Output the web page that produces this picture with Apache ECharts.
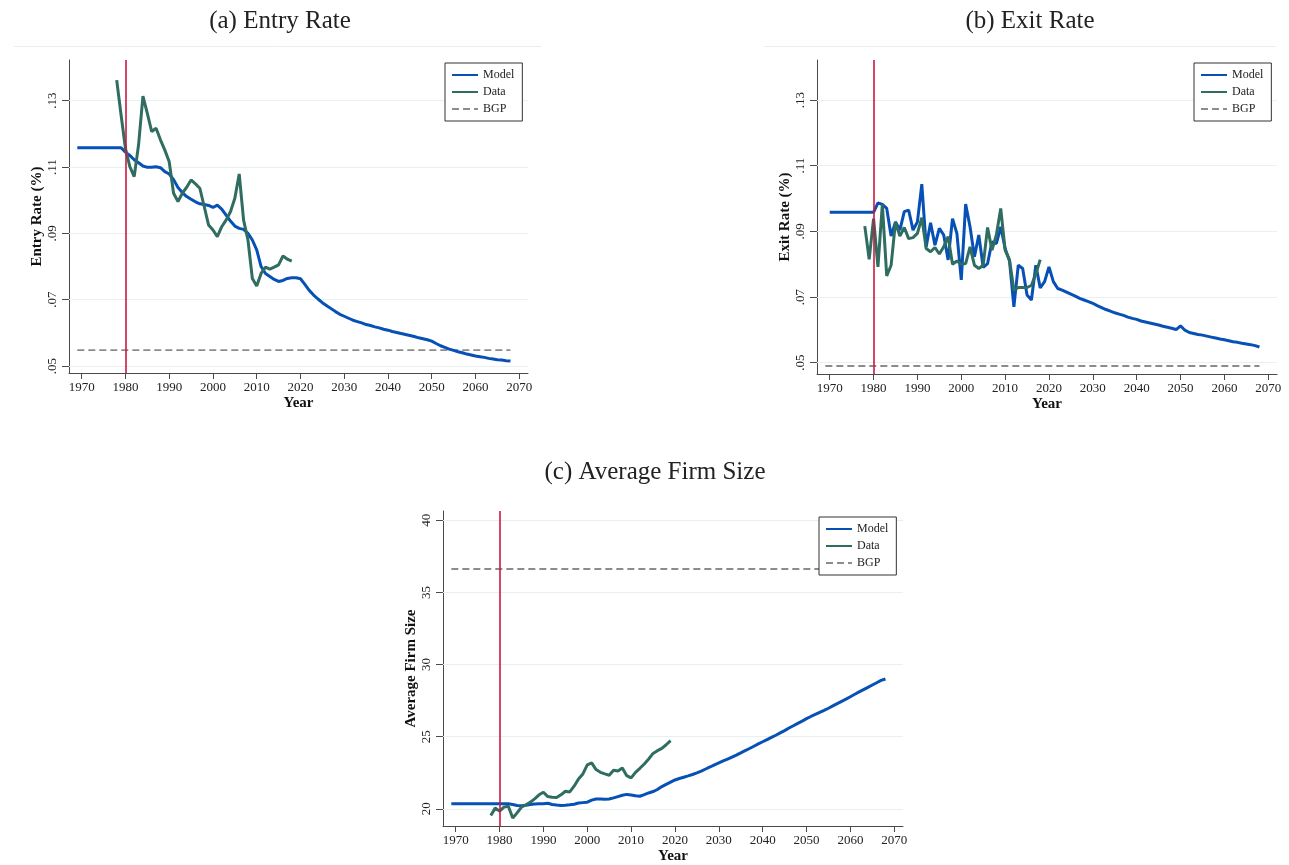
<!DOCTYPE html>
<html>
<head>
<meta charset="utf-8">
<script src="https://cdn.jsdelivr.net/npm/echarts@6/dist/echarts.min.js"></script>
<style>
  html, body { margin: 0; padding: 0; background: #fff; }
  #main { width: 1289px; height: 865px; }
</style>
</head>
<body>
<div id="main"></div>
<script>
// ---- data ----
var modelStart = 1969, exitModelStart = 1970, dataStart = 1978;
var bgpYears = [1969, 2068];
var policyYear = 1980;

var entryModel = [
  0.1158, 0.1158, 0.1158, 0.1158, 0.1158, 0.1158, 0.1158, 0.1158, 0.1158, 0.1158, 0.1158,
  0.1145, 0.1135, 0.1122, 0.1113, 0.1103, 0.1099, 0.1099, 0.1101, 0.1098, 0.1086,
  0.1079, 0.1062, 0.1038, 0.1023, 0.1011, 0.1003, 0.0995, 0.0989, 0.0987, 0.0984,
  0.0978, 0.0985, 0.0973, 0.0955, 0.0937, 0.0922, 0.0915, 0.0912, 0.0900, 0.0880,
  0.0850, 0.0800, 0.0779, 0.0770, 0.0761, 0.0755, 0.0758, 0.0764, 0.0766, 0.0766,
  0.0763, 0.0746, 0.0728, 0.0714, 0.0702, 0.0691, 0.0682, 0.0673, 0.0664, 0.0656,
  0.0650, 0.0644, 0.0638, 0.0634, 0.0630, 0.0625, 0.0622, 0.0618, 0.0615, 0.0611,
  0.0608, 0.0604, 0.0601, 0.0598, 0.0595, 0.0592, 0.0589, 0.0585, 0.0582, 0.0579,
  0.0575, 0.0568, 0.0561, 0.0556, 0.0551, 0.0547, 0.0543, 0.0540, 0.0536, 0.0533,
  0.0530, 0.0528, 0.0526, 0.0523, 0.0521, 0.0519, 0.0518, 0.0516, 0.0515
];
var entryData = [
  0.1362, 0.1257, 0.1156, 0.1101, 0.1071, 0.1167, 0.1314, 0.1262, 0.1207, 0.1217, 0.1182, 0.1151,
  0.1116, 0.1021, 0.0996, 0.1021, 0.1039, 0.1061, 0.1049, 0.1036, 0.0981, 0.0925,
  0.0910, 0.0890, 0.0920, 0.0940, 0.0965, 0.1006, 0.1079, 0.0940, 0.0880, 0.0764,
  0.0741, 0.0779, 0.0798, 0.0792, 0.0798, 0.0805, 0.0832, 0.0822, 0.0816
];
var entryBGP = 0.0548;

var exitModel = [
  0.0958, 0.0958, 0.0958, 0.0958, 0.0958, 0.0958, 0.0958, 0.0958, 0.0958, 0.0958, 0.0958,
  0.0987, 0.0982, 0.0970, 0.0886, 0.0929, 0.0904, 0.0960, 0.0965, 0.0904,
  0.0929, 0.1044, 0.0853, 0.0926, 0.0858, 0.0909, 0.0889, 0.0813, 0.0939, 0.0894,
  0.0752, 0.0983, 0.0914, 0.0823, 0.0889, 0.0790, 0.0802, 0.0868, 0.0863, 0.0914,
  0.0848, 0.0810, 0.0670, 0.0797, 0.0787, 0.0706, 0.0691, 0.0797, 0.0728, 0.0747,
  0.0792, 0.0747, 0.0726, 0.0721, 0.0715, 0.0709, 0.0703, 0.0696, 0.0691, 0.0686,
  0.0681, 0.0674, 0.0668, 0.0662, 0.0657, 0.0652, 0.0648, 0.0644, 0.0639, 0.0635,
  0.0632, 0.0627, 0.0624, 0.0621, 0.0618, 0.0615, 0.0611, 0.0608, 0.0605, 0.0601,
  0.0612, 0.0599, 0.0592, 0.0589, 0.0586, 0.0584, 0.0581, 0.0578, 0.0575, 0.0572,
  0.0570, 0.0567, 0.0564, 0.0562, 0.0559, 0.0557, 0.0555, 0.0552, 0.0548
];
var exitData = [
  0.0916, 0.0815, 0.0939, 0.0792, 0.0982, 0.0764, 0.0797, 0.0929, 0.0886, 0.0912, 0.0878, 0.0881,
  0.0894, 0.0942, 0.0848, 0.0838, 0.0851, 0.0831, 0.0853, 0.0884, 0.0800, 0.0810,
  0.0800, 0.0802, 0.0853, 0.0797, 0.0787, 0.0797, 0.0912, 0.0843, 0.0889, 0.0970,
  0.0843, 0.0813, 0.0721, 0.0729, 0.0729, 0.0729, 0.0736, 0.0770, 0.0814
];
var exitBGP = 0.0490;

var sizeModel = [
  20.35, 20.35, 20.35, 20.35, 20.35, 20.35, 20.35, 20.35, 20.35, 20.35, 20.35, 20.35, 20.35, 20.35,
  20.30, 20.23, 20.22, 20.25, 20.30, 20.33, 20.35,
  20.35, 20.39, 20.30, 20.26, 20.23, 20.25, 20.28, 20.32, 20.40, 20.43,
  20.46, 20.60, 20.68, 20.68, 20.67, 20.68, 20.76, 20.85, 20.94, 21.00,
  20.96, 20.90, 20.87, 20.98, 21.10, 21.20, 21.34, 21.54, 21.70, 21.85,
  22.00, 22.10, 22.19, 22.28, 22.38, 22.49, 22.62, 22.76, 22.90, 23.05,
  23.18, 23.32, 23.45, 23.58, 23.72, 23.88, 24.03, 24.18, 24.34, 24.50,
  24.65, 24.80, 24.95, 25.10, 25.26, 25.42, 25.60, 25.76, 25.92, 26.08,
  26.25, 26.40, 26.54, 26.68, 26.82, 26.97, 27.13, 27.29, 27.45, 27.60,
  27.77, 27.94, 28.10, 28.26, 28.42, 28.58, 28.74, 28.90, 29.00
];
var sizeData = [
  19.54, 20.05, 19.84, 20.12, 20.18, 19.36, 19.72, 20.12, 20.28, 20.46, 20.69, 20.97,
  21.15, 20.85, 20.81, 20.78, 20.97, 21.22, 21.17, 21.57, 22.07, 22.42,
  23.04, 23.18, 22.72, 22.53, 22.42, 22.33, 22.67, 22.62, 22.83, 22.30,
  22.14, 22.53, 22.81, 23.11, 23.45, 23.84, 24.03, 24.19, 24.44, 24.72
];
var sizeBGP = 36.62;

var yearTicks = [1970, 1980, 1990, 2000, 2010, 2020, 2030, 2040, 2050, 2060, 2070];
var rateTicks = [0.05, 0.07, 0.09, 0.11, 0.13];
var rateTickLabels = ['.05', '.07', '.09', '.11', '.13'];
var sizeTicks = [20, 25, 30, 35, 40];
var sizeTickLabels = ['20', '25', '30', '35', '40'];

// ---- styling ----
var FONT = 'Liberation Serif';
var BLUE = '#0650b6', GREEN = '#2f6d60', RED = '#cc1840', GRAY = '#8c8c8c', GRID = '#e8f0f0', AXIS = '#4a4a4a';

function pairs(start, vals) {
  return vals.map(function (v, i) { return [start + i, v]; });
}

function xAxisFor(g) {
  return {
    type: 'value', gridIndex: g, min: 1967.1, max: 2072,
    name: 'Year', nameLocation: 'middle', nameGap: 23,
    nameTextStyle: { fontFamily: FONT, fontWeight: 'bold', fontSize: 15, color: '#111' },
    axisLine: { show: true, lineStyle: { color: AXIS, width: 1 } },
    axisTick: { show: true, length: 6, customValues: yearTicks, lineStyle: { color: AXIS } },
    axisLabel: {
      customValues: yearTicks, margin: 8, fontFamily: FONT, fontSize: 13, color: '#222',
      formatter: function (v) { return String(Math.round(v)); }
    },
    splitLine: { show: false }
  };
}

function yAxisFor(g, min, max, ticks, labels, name) {
  return {
    type: 'value', gridIndex: g, min: min, max: max,
    name: name, nameLocation: 'middle', nameGap: 23,
    nameTextStyle: { fontFamily: FONT, fontWeight: 'bold', fontSize: 15, color: '#111' },
    axisLine: { show: true, lineStyle: { color: AXIS, width: 1 } },
    axisTick: { show: true, length: 7, customValues: ticks, lineStyle: { color: AXIS } },
    axisLabel: {
      customValues: ticks, rotate: 90, margin: 10, fontFamily: FONT, fontSize: 13, color: '#222',
      formatter: function (v) {
        for (var i = 0; i < ticks.length; i++) if (Math.abs(ticks[i] - v) < 1e-6) return labels[i];
        return '';
      }
    },
    splitLine: { show: false }
  };
}

function panelSeries(g, modelStartYear, model, data, bgp, ticks) {
  return [
    { // light horizontal grid lines
      type: 'line', xAxisIndex: g, yAxisIndex: g, data: [], silent: true, z: 1,
      markLine: {
        z: 1, silent: true, symbol: 'none', animation: false, label: { show: false },
        lineStyle: { color: GRID, width: 1, type: 'solid' },
        data: ticks.map(function (t) { return { yAxis: t }; })
      }
    },
    {
      name: 'BGP', type: 'line', xAxisIndex: g, yAxisIndex: g, showSymbol: false, symbol: 'none',
      data: bgpYears.map(function (y) { return [y, bgp]; }),
      lineStyle: { color: GRAY, width: 1.8, type: [7, 4] }, itemStyle: { color: GRAY }, z: 8
    },
    {
      name: 'Model', type: 'line', xAxisIndex: g, yAxisIndex: g, showSymbol: false, symbol: 'none',
      data: pairs(modelStartYear, model), lineStyle: { color: BLUE, width: 3 }, itemStyle: { color: BLUE }, z: 9
    },
    {
      name: 'Data', type: 'line', xAxisIndex: g, yAxisIndex: g, showSymbol: false, symbol: 'none',
      data: pairs(dataStart, data), lineStyle: { color: GREEN, width: 3 }, itemStyle: { color: GREEN }, z: 10
    },
    { // 1980 reference line
      type: 'line', xAxisIndex: g, yAxisIndex: g, data: [], silent: true, z: 12,
      markLine: {
        z: 12, silent: true, symbol: 'none', animation: false, label: { show: false },
        lineStyle: { color: RED, width: 1.6, type: 'solid' },
        data: [{ xAxis: policyYear }]
      }
    }
  ];
}

function legendAt(left, top) {
  return {
    data: ['Model', 'Data', 'BGP'], orient: 'vertical', left: left, top: top, z: 20,
    backgroundColor: '#fff', borderColor: '#333', borderWidth: 1, borderRadius: 0,
    padding: [6, 8, 6, 6], itemWidth: 26, itemHeight: 13, itemGap: 5,
    itemStyle: { opacity: 0 },
    textStyle: { fontFamily: FONT, fontSize: 12, color: '#222' }
  };
}

var chart = echarts.init(document.getElementById('main'), null, { renderer: 'canvas' });

var titleStyle = { fontFamily: FONT, fontSize: 25, fontWeight: 'normal', color: '#222' };

var option = {
  animation: false,
  backgroundColor: '#fff',
  title: [
    { text: '(a) Entry Rate', left: 275, top: 4, textAlign: 'center', textStyle: titleStyle },
    { text: '(b) Exit Rate', left: 1025, top: 4, textAlign: 'center', textStyle: titleStyle },
    { text: '(c) Average Firm Size', left: 650, top: 455, textAlign: 'center', textStyle: titleStyle }
  ],
  graphic: [
    { type: 'line', shape: { x1: 14, y1: 46.5, x2: 541, y2: 46.5 }, style: { stroke: '#ececec', lineWidth: 1 }, silent: true },
    { type: 'line', shape: { x1: 764, y1: 46.5, x2: 1276, y2: 46.5 }, style: { stroke: '#ececec', lineWidth: 1 }, silent: true }
  ],
  legend: [legendAt(445, 63), legendAt(1194, 63), legendAt(819, 517)],
  grid: [
    { left: 69, top: 60, width: 459, height: 313 },
    { left: 817, top: 60, width: 460, height: 314 },
    { left: 443, top: 511, width: 460, height: 316 }
  ],
  xAxis: [xAxisFor(0), xAxisFor(1), xAxisFor(2)],
  yAxis: [
    yAxisFor(0, 0.04789, 0.14227, rateTicks, rateTickLabels, 'Entry Rate (%)'),
    yAxisFor(1, 0.04656, 0.1422, rateTicks, rateTickLabels, 'Exit Rate (%)'),
    yAxisFor(2, 18.81, 40.64, sizeTicks, sizeTickLabels, 'Average Firm Size')
  ],
  series: []
    .concat(panelSeries(0, modelStart, entryModel, entryData, entryBGP, rateTicks))
    .concat(panelSeries(1, exitModelStart, exitModel, exitData, exitBGP, rateTicks))
    .concat(panelSeries(2, modelStart, sizeModel, sizeData, sizeBGP, sizeTicks))
};

chart.setOption(option);
</script>
</body>
</html>
